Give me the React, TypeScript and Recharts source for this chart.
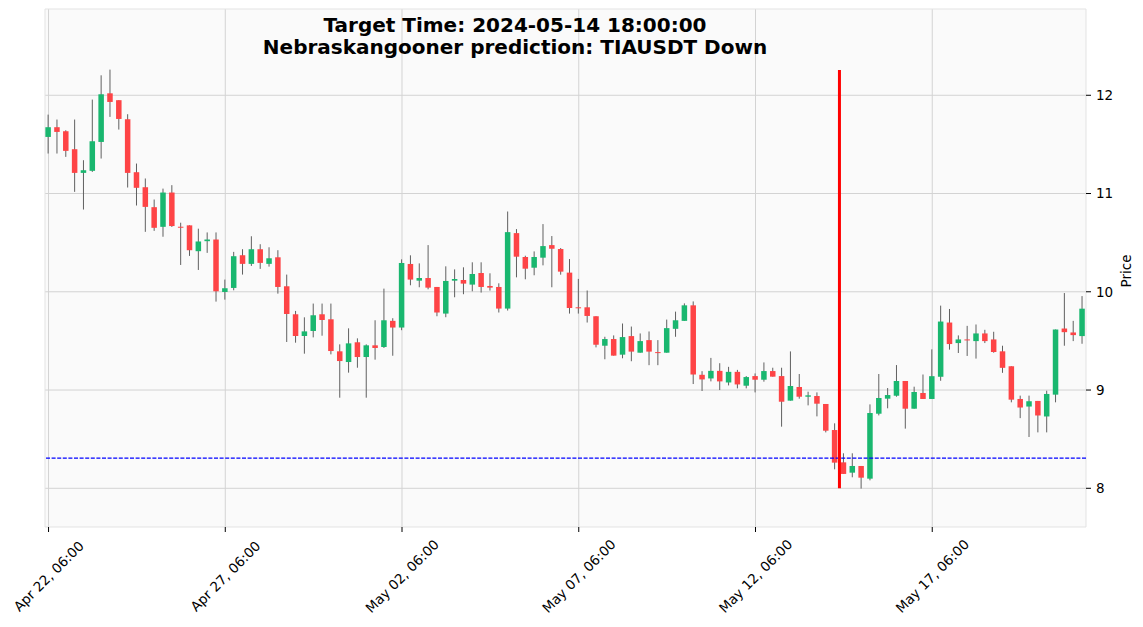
import React from "react";
import { ComposedChart, Bar, XAxis, YAxis, CartesianGrid, ReferenceLine, ReferenceArea } from "recharts";

// 6h candles, TIAUSDT, from Apr 22 06:00
const opens = [
  11.576, 11.675, 11.634, 11.451, 11.21, 11.231, 11.525, 12.02, 11.95, 11.756,
  11.217, 11.064, 10.861, 10.661, 11.01, 10.662, 10.676, 10.413, 10.515, 10.532,
  9.998, 10.039, 10.372, 10.284, 10.433, 10.284, 10.351, 10.056, 9.771, 9.55,
  9.601, 9.771, 9.72, 9.394, 9.285, 9.486, 9.336, 9.455, 9.438, 9.704,
  9.636, 10.283, 10.113, 10.14, 10.049, 9.778, 10.113, 10.12, 10.073, 10.191,
  10.059, 10.049, 9.829, 10.597, 10.354, 10.245, 10.347, 10.475, 10.435, 10.195,
  9.842, 9.842, 9.751, 9.451, 9.519, 9.36, 9.549, 9.38, 9.508, 9.386,
  9.38, 9.623, 9.704, 9.862, 9.155, 9.118, 9.195, 9.077, 9.185, 9.044,
  9.142, 9.105, 9.193, 9.142, 8.892, 9.031, 8.932, 8.939, 8.858, 8.593,
  8.264, 8.159, 8.227, 8.098, 8.759, 8.912, 8.942, 9.092, 8.81, 8.97,
  8.909, 9.135, 9.687, 9.478, 9.515, 9.498, 9.576, 9.515, 9.394, 9.242,
  8.909, 8.832, 8.889, 8.731, 8.953, 9.626, 9.586, 9.549,
];
const highs = [
  11.803, 11.753, 11.644, 11.753, 11.339, 11.956, 12.203, 12.261, 11.95, 11.807,
  11.305, 11.153, 10.939, 11.05, 11.085, 10.703, 10.676, 10.642, 10.604, 10.604,
  10.124, 10.406, 10.433, 10.565, 10.484, 10.453, 10.423, 10.175, 9.805, 9.74,
  9.88, 9.88, 9.88, 9.465, 9.628, 9.526, 9.465, 9.71, 10.032, 9.731,
  10.33, 10.371, 10.289, 10.475, 10.049, 10.259, 10.228, 10.249, 10.3, 10.3,
  10.188, 10.086, 10.817, 10.638, 10.367, 10.411, 10.689, 10.567, 10.445, 10.333,
  10.131, 10.013, 9.751, 9.542, 9.556, 9.677, 9.646, 9.576, 9.596, 9.508,
  9.717, 9.798, 9.882, 9.902, 9.192, 9.327, 9.273, 9.236, 9.205, 9.142,
  9.169, 9.281, 9.227, 9.227, 9.393, 9.163, 8.983, 8.976, 8.858, 8.661,
  8.356, 8.356, 8.227, 8.854, 9.163, 9.02, 9.254, 9.092, 9.034, 9.158,
  9.414, 9.859, 9.825, 9.556, 9.653, 9.667, 9.613, 9.593, 9.451, 9.242,
  8.943, 8.943, 8.889, 8.993, 9.616, 9.987, 9.704, 9.956,
];
const lows = [
  11.407, 11.407, 11.373, 11.017, 10.837, 11.22, 11.356, 11.78, 11.651, 11.061,
  10.878, 10.61, 10.62, 10.56, 10.66, 10.273, 10.365, 10.222, 10.396, 9.9,
  9.92, 10.015, 10.175, 10.263, 10.233, 10.256, 9.981, 9.489, 9.482, 9.37,
  9.536, 9.553, 9.363, 8.922, 9.177, 9.227, 8.922, 9.309, 9.428, 9.349,
  9.609, 10.066, 10.046, 10.025, 9.751, 9.741, 9.944, 9.975, 10.005, 9.992,
  10.012, 9.789, 9.809, 10.147, 10.127, 10.168, 10.269, 10.046, 10.174, 9.778,
  9.778, 9.687, 9.434, 9.313, 9.35, 9.323, 9.293, 9.38, 9.253, 9.253,
  9.38, 9.542, 9.704, 9.061, 8.99, 9.088, 9.0, 9.047, 9.017, 9.017,
  8.976, 9.085, 9.136, 8.627, 8.892, 8.912, 8.844, 8.732, 8.569, 8.193,
  8.146, 8.112, 7.997, 8.081, 8.742, 8.814, 8.932, 8.607, 8.81, 8.909,
  8.909, 9.094, 9.411, 9.377, 9.347, 9.32, 9.478, 9.38, 9.175, 8.875,
  8.714, 8.522, 8.569, 8.569, 8.875, 9.451, 9.498, 9.471,
];
const closes = [
  11.675, 11.627, 11.434, 11.21, 11.237, 11.532, 12.01, 11.932, 11.759, 11.21,
  11.058, 10.864, 10.651, 11.01, 10.669, 10.659, 10.423, 10.512, 10.532, 10.005,
  10.036, 10.362, 10.284, 10.433, 10.294, 10.341, 10.049, 9.774, 9.55, 9.597,
  9.761, 9.713, 9.397, 9.295, 9.475, 9.336, 9.455, 9.428, 9.71, 9.636,
  10.293, 10.124, 10.14, 10.042, 9.789, 10.11, 10.13, 10.083, 10.181, 10.049,
  10.042, 9.829, 10.607, 10.357, 10.235, 10.354, 10.465, 10.438, 10.205, 9.835,
  9.835, 9.754, 9.461, 9.519, 9.35, 9.539, 9.391, 9.498, 9.391, 9.384,
  9.63, 9.71, 9.862, 9.158, 9.108, 9.195, 9.088, 9.185, 9.057, 9.132,
  9.105, 9.193, 9.136, 8.881, 9.041, 8.932, 8.946, 8.861, 8.586, 8.261,
  8.146, 8.227, 8.108, 8.766, 8.919, 8.949, 9.092, 8.81, 8.98, 8.909,
  9.141, 9.697, 9.468, 9.515, 9.512, 9.576, 9.498, 9.387, 9.226, 8.902,
  8.822, 8.886, 8.741, 8.96, 9.616, 9.589, 9.559, 9.828,
];

const tickIdx = [0, 20, 40, 60, 80, 100];
const tickLabels = ["Apr 22, 06:00", "Apr 27, 06:00", "May 02, 06:00", "May 07, 06:00", "May 12, 06:00", "May 17, 06:00"];
const priceTicks = [8, 9, 10, 11, 12];

const targetIdx = 89.5;
const targetTop = 12.258;
const targetBottom = 8.0;
const predLevel = 8.308;

const data = opens.map((o, i) => ({
  i,
  open: o,
  high: highs[i],
  low: lows[i],
  close: closes[i],
}));

const UP = "#19b76f";
const DOWN = "#fe4446";
const WICK = "#606060";
const FONT = "'DejaVu Sans', sans-serif";

function Candle(props: any) {
  const { x, y, width, height, payload } = props;
  if (!payload) return null;
  const top = Math.min(y, y + height);
  const bot = Math.max(y, y + height);
  const { open, close, high, low } = payload;
  const span = high - low;
  const py = (v: number) => (span > 0 ? top + ((high - v) / span) * (bot - top) : top);
  const cx = x + width / 2;
  const up = close >= open;
  const bTop = py(Math.max(open, close));
  const bBot = py(Math.min(open, close));
  return (
    <g>
      <line x1={cx} x2={cx} y1={top} y2={bot} stroke={WICK} strokeWidth={1} />
      <rect x={cx - 2.75} y={bTop} width={5.5} height={Math.max(bBot - bTop, 1)} fill={up ? UP : DOWN} />
    </g>
  );
}

function XTick(props: any) {
  const { x, payload } = props;
  const k = tickIdx.indexOf(payload.value);
  const cy = 576;
  return (
    <text
      x={x}
      y={cy}
      transform={`rotate(-45 ${x} ${cy})`}
      textAnchor="middle"
      dominantBaseline="central"
      fontSize={13.5}
      fontFamily={FONT}
      fill="#000"
    >
      {k >= 0 ? tickLabels[k] : ""}
    </text>
  );
}

export default function App() {
  return (
    <div style={{ position: "absolute", left: 0, top: 0, width: 1143, height: 627, background: "#fff" }}>
      <ComposedChart width={1143} height={627} data={data} margin={{ top: 9, right: 7, bottom: 0, left: 45 }}>
        <CartesianGrid stroke="#d3d3d3" fill="#fafafa" verticalValues={tickIdx} horizontalValues={priceTicks} />
        <XAxis
          dataKey="i"
          type="number"
          domain={[-0.4, 117.4]}
          ticks={tickIdx}
          allowDataOverflow
          height={100}
          axisLine={false}
          tickLine={{ stroke: "#000" }}
          tickSize={5}
          tick={<XTick />}
          interval={0}
        />
        <YAxis
          orientation="right"
          domain={[7.606, 12.878]}
          ticks={priceTicks}
          allowDataOverflow
          width={50}
          axisLine={false}
          tickLine={{ stroke: "#000" }}
          tickSize={5}
          tickMargin={5}
          tick={{ fill: "#000", fontSize: 13.5, fontFamily: FONT }}
        />
        <ReferenceArea x1={-0.4} x2={117.4} y1={7.606} y2={12.878} fill="none" stroke="#e3e3e3" />
        <Bar
          dataKey={(d: any) => [d.low, d.high]}
          barSize={6}
          shape={<Candle />}
          isAnimationActive={false}
        />
        <ReferenceLine y={predLevel} stroke="#0000ff" strokeWidth={1.2} strokeDasharray="4 1.6" />
        <ReferenceLine
          segment={[
            { x: targetIdx, y: targetBottom },
            { x: targetIdx, y: targetTop },
          ]}
          stroke="#ff0000"
          strokeWidth={3}
        />
      </ComposedChart>
      <div
        style={{
          position: "absolute",
          left: 165,
          width: 700,
          top: 14,
          textAlign: "center",
          fontFamily: FONT,
          fontWeight: "bold",
          fontSize: 20,
          lineHeight: "22px",
          color: "#000",
        }}
      >
        Target Time: 2024-05-14 18:00:00
        <br />
        Nebraskangooner prediction: TIAUSDT Down
      </div>
      <div
        style={{
          position: "absolute",
          left: 1126,
          top: 271,
          transform: "translate(-50%, -50%) rotate(-90deg)",
          fontFamily: FONT,
          fontSize: 13.5,
          color: "#000",
          whiteSpace: "nowrap",
        }}
      >
        Price
      </div>
    </div>
  );
}
